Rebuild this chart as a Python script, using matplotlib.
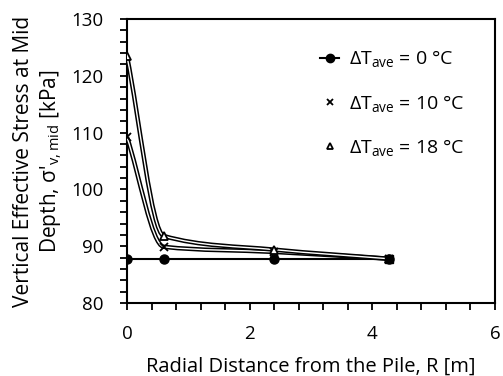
import numpy as np
import matplotlib
matplotlib.use('Agg')
import matplotlib.pyplot as plt
import matplotlib.patheffects as pe
from matplotlib.path import Path
from matplotlib.patches import PathPatch
from matplotlib.lines import Line2D
from matplotlib.ticker import MultipleLocator

plt.rcParams['font.family'] = ['Open Sans', 'DejaVu Sans']
plt.rcParams['mathtext.fontset'] = 'custom'
plt.rcParams['mathtext.rm'] = 'Open Sans'
plt.rcParams['mathtext.it'] = 'Open Sans'

# radial distance from the pile [m]
r = [0, 0.6, 2.4, 4.27]
# vertical effective stress at mid depth [kPa]
dt0 = [87.8, 87.8, 87.8, 87.8]
dt10 = [109.2, 89.9, 89.0, 87.8]
dt18 = [123.4, 91.8, 89.4, 87.8]
labels = ['0 °C', '10 °C', '18 °C']


def smooth_path(x, y):
    # monotone cubic (Fritsch-Carlson) drawn as bezier segments
    x = np.asarray(x, float)
    y = np.asarray(y, float)
    h = np.diff(x)
    d = np.diff(y) / h
    m = np.zeros(len(x))
    m[0], m[-1] = d[0], d[-1]
    for k in range(1, len(x) - 1):
        if d[k - 1] * d[k] <= 0:
            m[k] = 0
        else:
            w1 = 2 * h[k] + h[k - 1]
            w2 = h[k] + 2 * h[k - 1]
            m[k] = (w1 + w2) / (w1 / d[k - 1] + w2 / d[k])
    verts = [(x[0], y[0])]
    codes = [Path.MOVETO]
    for k in range(len(x) - 1):
        verts += [(x[k] + h[k] / 3, y[k] + m[k] * h[k] / 3),
                  (x[k + 1] - h[k] / 3, y[k + 1] - m[k + 1] * h[k] / 3),
                  (x[k + 1], y[k + 1])]
        codes += [Path.CURVE4] * 3
    return Path(verts, codes)


fig = plt.figure(figsize=(5.03, 3.76), dpi=100)
ax = fig.add_axes([0.2525, 0.194, 0.7315, 0.7555])

ax.plot(r, dt0, color='black', lw=1.5, marker='o', ms=6.5, zorder=3)

for vals, mk in [(dt10, 'x'), (dt18, '^')]:
    patch = PathPatch(smooth_path(r, vals), facecolor='none', edgecolor='white', lw=1.0,
                      path_effects=[pe.Stroke(linewidth=3.2, foreground='black'), pe.Normal()],
                      zorder=4)
    ax.add_patch(patch)
    if mk == 'x':
        ax.plot(r, vals, ls='none', marker='x', ms=6, mew=1.3, color='black', zorder=5)
    else:
        ax.plot(r, vals, ls='none', marker='^', ms=6, mew=1.3, mfc='white', mec='black', zorder=5)

ax.plot(r[-1], dt0[-1], ls='none', marker='s', ms=6, color='black', zorder=6)

ax.set_xlim(0, 6)
ax.set_ylim(80, 130)
ax.xaxis.set_major_locator(MultipleLocator(2))
ax.xaxis.set_minor_locator(MultipleLocator(0.4))
ax.yaxis.set_major_locator(MultipleLocator(10))
ax.yaxis.set_minor_locator(MultipleLocator(2))
ax.tick_params(which='both', direction='out', length=5, width=1.3, labelsize=13.5)
ax.tick_params(axis='x', pad=10.5)
ax.tick_params(axis='y', pad=12)
for s in ax.spines.values():
    s.set_linewidth(1.5)

ax.set_xlabel('Radial Distance from the Pile, R [m]', fontsize=14.5, labelpad=10)
ax.set_ylabel("Vertical Effective Stress at Mid\nDepth, σ'$_{\\mathregular{v,mid}}$ [kPa]",
              fontsize=15, labelpad=5, linespacing=1.25)

handles = [Line2D([], [], color='black', lw=1.5, marker='o', ms=6),
           Line2D([], [], ls='none', color='black', marker='x', ms=5, mew=1.3),
           Line2D([], [], ls='none', color='black', marker='^', ms=4.5, mew=1.3, mfc='white', mec='black')]
leg_labels = ['$\\mathregular{\\Delta T_{ave}}$ = ' + t for t in labels]
ax.legend(handles, leg_labels, loc='upper right', bbox_to_anchor=(0.965, 0.958), frameon=False,
          fontsize=14, handlelength=1.0, handletextpad=0.5, labelspacing=1.2)

fig.savefig('out.png', dpi=100)
